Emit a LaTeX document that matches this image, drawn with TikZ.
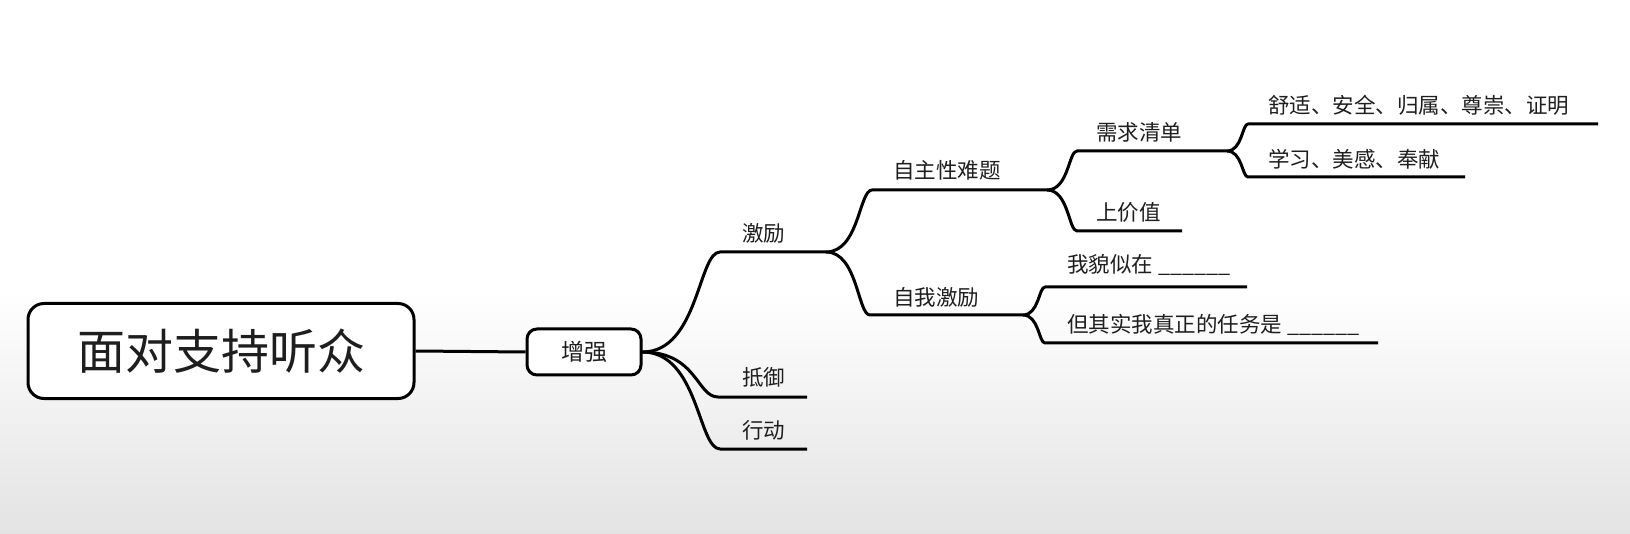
\documentclass[tikz,border=0pt]{standalone}
\usepackage{fontspec}
\setmainfont{Noto Sans CJK SC}
\usetikzlibrary{calc}
\definecolor{txt}{HTML}{1E1E1E}
\begin{document}
\begin{tikzpicture}[x=1pt,y=-1pt,
  conn/.style={line width=3pt, draw=black, line join=round},
  branch/.style={to path={let \p1=(\tikztostart), \p2=(\tikztotarget), \n1={\x1+0.72*(\x2-\x1)} in .. controls ({\n1*1pt},\y1) and ({\n1*1pt},\y2) .. (\tikztotarget)}},
  lbl/.style={anchor=west, inner sep=0pt, text=txt, font=\fontsize{21.5}{25}\selectfont},
  box/.style={draw=black, line width=3pt, text=txt, fill=white}]
\useasboundingbox (0,0) rectangle (1630,534);
\fill[white] (0,0) rectangle (1630,534);
\shade[top color=white, bottom color=black!11] (0,290) rectangle (1630,534);

% root and first level box
\node[box, minimum width=386pt, minimum height=95pt, rounded corners=16pt,
      font=\fontsize{48}{56}\selectfont] (root) at (221,351) {面对支持听众};
\node[box, minimum width=114pt, minimum height=46pt, rounded corners=10pt,
      font=\fontsize{23}{27}\selectfont] (zq) at (584,352) {增强};
\draw[conn] (root.east) -- (zq.west);

% line coordinates
\coordinate (jlS) at (720,252);  \coordinate (jlE) at (826,252);
\coordinate (dyS) at (718,397);  \coordinate (dyE) at (807,397);
\coordinate (xdS) at (720,449);  \coordinate (xdE) at (807,449);
\coordinate (zzS) at (872,190);  \coordinate (zzE) at (1047,190);
\coordinate (zwS) at (870,315);  \coordinate (zwE) at (1023,315);
\coordinate (xqS) at (1077,151); \coordinate (xqE) at (1227,151);
\coordinate (sjS) at (1077,231); \coordinate (sjE) at (1182,231);
\coordinate (a1S) at (1248,124); \coordinate (a1E) at (1598,124);
\coordinate (a2S) at (1248,177); \coordinate (a2E) at (1465,177);
\coordinate (b1S) at (1045,287); \coordinate (b1E) at (1247,287);
\coordinate (b2S) at (1045,343); \coordinate (b2E) at (1378,343);

% connectors
\draw[conn] (zq.east) to[branch] (jlS) -- (jlE);
\draw[conn] (zq.east) to[branch] (dyS) -- (dyE);
\draw[conn] (zq.east) to[branch] (xdS) -- (xdE);
\draw[conn] (jlE) to[branch] (zzS) -- (zzE);
\draw[conn] (jlE) to[branch] (zwS) -- (zwE);
\draw[conn] (zzE) to[branch] (xqS) -- (xqE);
\draw[conn] (zzE) to[branch] (sjS) -- (sjE);
\draw[conn] (xqE) to[branch] (a1S) -- (a1E);
\draw[conn] (xqE) to[branch] (a2S) -- (a2E);
\draw[conn] (zwE) to[branch] (b1S) -- (b1E);
\draw[conn] (zwE) to[branch] (b2S) -- (b2E);

% labels
\node[lbl] (jl) at (742,233) {激励};
\node[lbl] (dy) at (742,377) {抵御};
\node[lbl] (xd) at (742,430) {行动};
\node[lbl] (zz) at (893,170) {自主性难题};
\node[lbl] (zw) at (893,297) {自我激励};
\node[lbl] (xq) at (1096,132) {需求清单};
\node[lbl] (sj) at (1096,212) {上价值};
\node[lbl] (a1) at (1268,105) {舒适、安全、归属、尊崇、证明};
\node[lbl] (a2) at (1268,159) {学习、美感、奉献};
\node[lbl] (b1) at (1067,265) {我貌似在 \_\_\_\_\_\_};
\node[lbl] (b2) at (1067,325) {但其实我真正的任务是 \_\_\_\_\_\_};
\end{tikzpicture}
\end{document}
